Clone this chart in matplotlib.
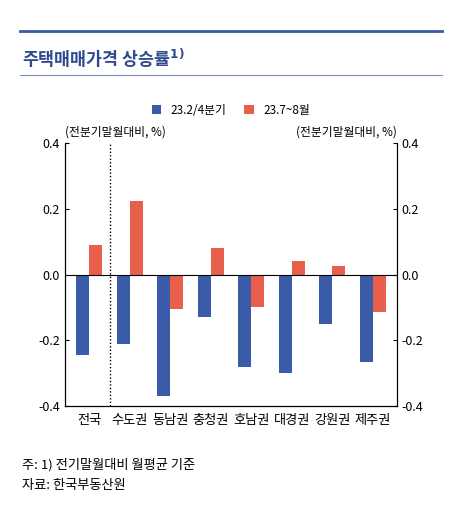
import matplotlib
matplotlib.use("Agg")
import matplotlib.pyplot as plt
import numpy as np
from matplotlib.lines import Line2D

plt.rcParams['font.family'] = ['Noto Sans CJK KR', 'DejaVu Sans']

categories = ['전국', '수도권', '동남권', '충청권', '호남권', '대경권', '강원권', '제주권']
s1 = [-0.245, -0.21, -0.37, -0.13, -0.28, -0.30, -0.15, -0.265]
s2 = [0.09, 0.225, -0.105, 0.08, -0.10, 0.04, 0.025, -0.115]
names = ['23.2/4분기', '23.7~8월']
yticks = [0.4, 0.2, 0.0, -0.2, -0.4]

blue = '#3a5ba8'
red = '#e8604c'

fig = plt.figure(figsize=(4.72, 5.13), dpi=100)
W, H = 472, 513
ax = fig.add_axes([65/W, 1-406/H, (397-65)/W, (406-143)/H])
x = np.arange(len(categories))
w = 0.32
ax.bar(x - w/2, s1, w, color=blue, label=names[0])
ax.bar(x + w/2, s2, w, color=red, label=names[1])
ax.set_ylim(-0.4, 0.4)
ax.set_xlim(-0.6, len(categories) - 0.4)
ax.set_yticks(yticks)
ax.set_yticklabels([f'{v:.1f}' for v in yticks], fontsize=9)
ax.axhline(0, color='black', lw=0.8)
ax.axvline(0.5, color='black', lw=1, ls=(0, (1, 1.5)))
ax.set_xticks(x)
ax.set_xticklabels(categories, fontsize=9.5)
ax.tick_params(axis='x', length=0, pad=6)
ax.tick_params(axis='y', direction='in', length=3, labelsize=9)
ax.spines['top'].set_visible(False)
ax2 = ax.twinx()
ax2.set_ylim(-0.4, 0.4)
ax2.set_yticks(yticks)
ax2.set_yticklabels([f'{v:.1f}' for v in yticks], fontsize=9)
ax2.tick_params(axis='y', direction='in', length=3)
ax2.spines['top'].set_visible(False)

ax.text(0.0, 1.03, '(전분기말월대비, %)', transform=ax.transAxes, fontsize=8.5, ha='left')
ax.text(1.0, 1.03, '(전분기말월대비, %)', transform=ax.transAxes, fontsize=8.5, ha='right')
ax.legend(loc='lower center', bbox_to_anchor=(0.5, 1.06), ncol=2, frameon=False,
          fontsize=8.5, handlelength=0.8, handleheight=0.8, columnspacing=1.5)

fig.add_artist(Line2D([20/W, 442/W], [1-31/H, 1-31/H], color=blue, lw=2))
fig.add_artist(Line2D([20/W, 442/W], [1-75/H, 1-75/H], color='#7a8fb8', lw=0.8))
fig.text(22/W, 1-58/H, '주택매매가격 상승률$^{\\mathbf{1)}}$', fontsize=12.5, color='#2e4b8f',
         fontweight='bold', va='center')
fig.text(22/W, 1-465/H, '주: 1) 전기말월대비 월평균 기준', fontsize=9.5, va='center')
fig.text(22/W, 1-486/H, '자료: 한국부동산원', fontsize=9.5, va='center')

fig.savefig('out.png', dpi=100)
